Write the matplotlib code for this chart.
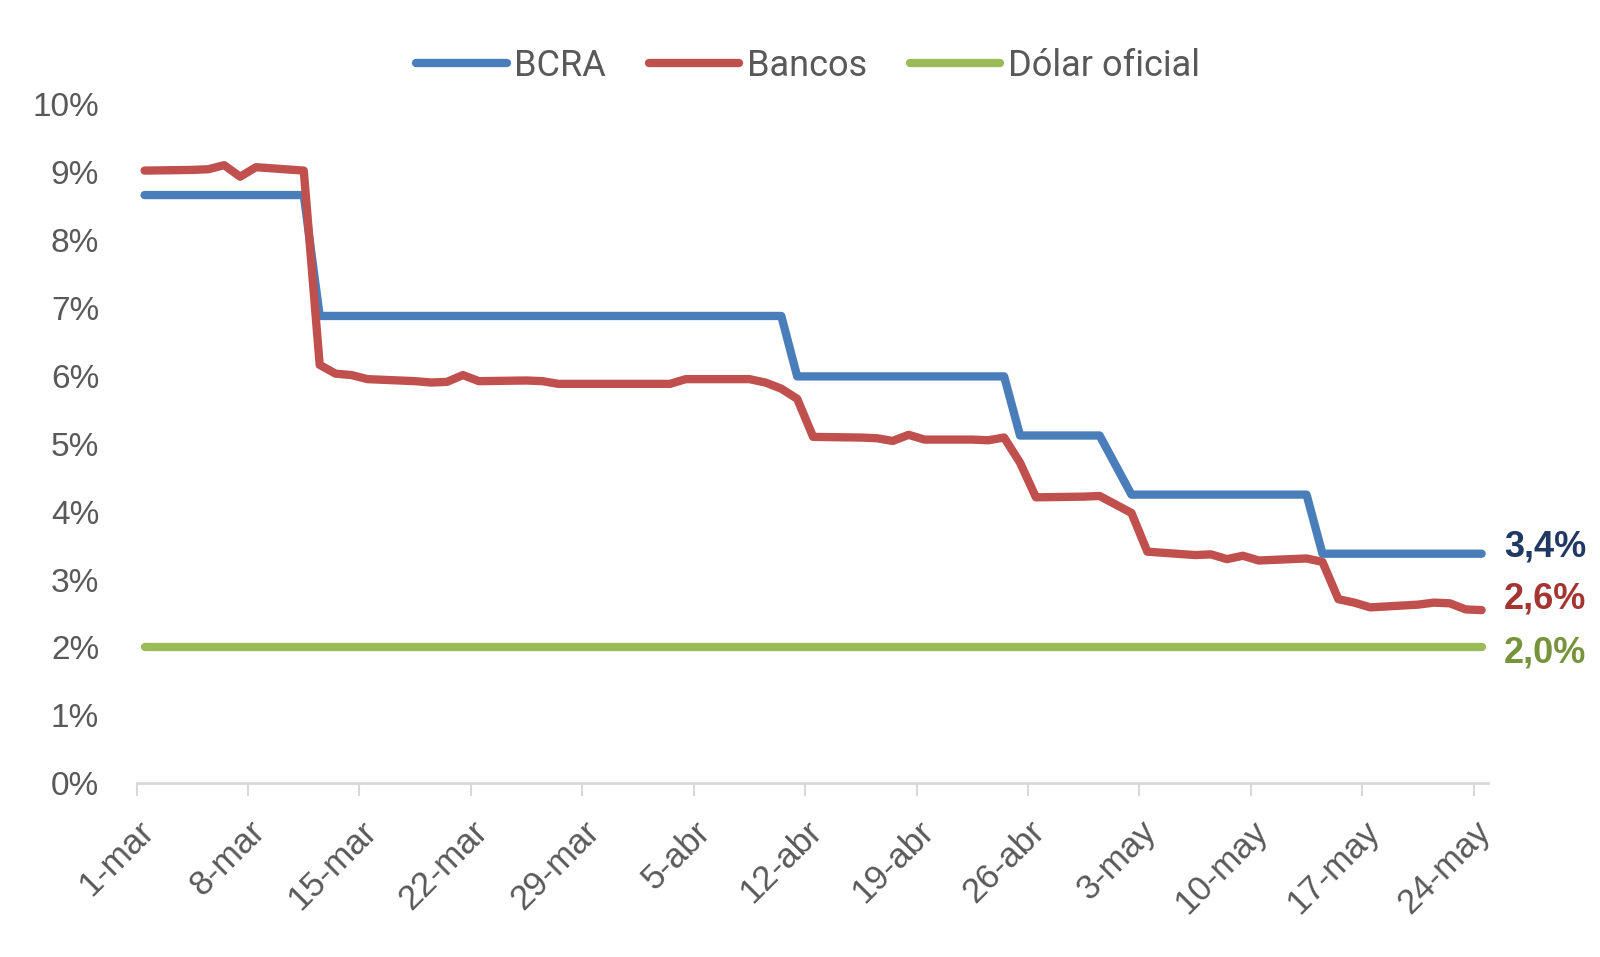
import matplotlib
matplotlib.use("Agg")
import matplotlib.pyplot as plt
import matplotlib.dates as mdates
from matplotlib.transforms import ScaledTranslation
import pandas as pd
import numpy as np

# ---------------- data ----------------
dates = ["2024-03-01", "2024-03-04", "2024-03-05", "2024-03-06", "2024-03-07", "2024-03-08",
         "2024-03-11", "2024-03-12", "2024-03-13", "2024-03-14", "2024-03-15", "2024-03-18",
         "2024-03-19", "2024-03-20", "2024-03-21", "2024-03-22", "2024-03-25", "2024-03-26",
         "2024-03-27", "2024-04-03", "2024-04-04", "2024-04-05", "2024-04-08", "2024-04-09",
         "2024-04-10", "2024-04-11", "2024-04-12", "2024-04-15", "2024-04-16", "2024-04-17",
         "2024-04-18", "2024-04-19", "2024-04-22", "2024-04-23", "2024-04-24", "2024-04-25",
         "2024-04-26", "2024-04-29", "2024-04-30", "2024-05-02", "2024-05-03", "2024-05-06",
         "2024-05-07", "2024-05-08", "2024-05-09", "2024-05-10", "2024-05-13", "2024-05-14",
         "2024-05-15", "2024-05-16", "2024-05-17", "2024-05-20", "2024-05-21", "2024-05-22",
         "2024-05-23", "2024-05-24"]

bcra = [8.66, 8.66, 8.66, 8.66, 8.66, 8.66, 8.66,
        6.88, 6.88, 6.88, 6.88, 6.88, 6.88, 6.88, 6.88, 6.88, 6.88, 6.88, 6.88,
        6.88, 6.88, 6.88, 6.88, 6.88, 6.88,
        5.99, 5.99, 5.99, 5.99, 5.99, 5.99, 5.99, 5.99, 5.99, 5.99,
        5.12, 5.12, 5.12, 5.12,
        4.25, 4.25, 4.25, 4.25, 4.25, 4.25, 4.25, 4.25,
        3.38, 3.38, 3.38, 3.38, 3.38, 3.38, 3.38, 3.38, 3.38]

bancos = [9.02, 9.03, 9.04, 9.10, 8.93, 9.07, 9.02, 6.16, 6.03, 6.01, 5.95, 5.92,
          5.90, 5.91, 6.01, 5.92, 5.93, 5.92, 5.88, 5.88, 5.95, 5.95, 5.95, 5.90,
          5.81, 5.66, 5.10, 5.09, 5.08, 5.04, 5.13, 5.06, 5.06, 5.05, 5.09, 4.72,
          4.21, 4.22, 4.23, 3.98, 3.41, 3.36, 3.37, 3.30, 3.35, 3.28, 3.31, 3.26,
          2.71, 2.66, 2.59, 2.63, 2.66, 2.65, 2.56, 2.55]

dolar = [2.0, 2.0, 2.0, 2.0, 2.0, 2.0, 2.0, 2.0, 2.0, 2.0, 2.0, 2.0, 2.0, 2.0,
         2.0, 2.0, 2.0, 2.0, 2.0, 2.0, 2.0, 2.0, 2.0, 2.0, 2.0, 2.0, 2.0, 2.0,
         2.0, 2.0, 2.0, 2.0, 2.0, 2.0, 2.0, 2.0, 2.0, 2.0, 2.0, 2.0, 2.0, 2.0,
         2.0, 2.0, 2.0, 2.0, 2.0, 2.0, 2.0, 2.0, 2.0, 2.0, 2.0, 2.0, 2.0, 2.0]

series_names = ["BCRA", "Bancos", "Dólar oficial"]
end_labels = ["3,4%", "2,6%", "2,0%"]

tick_dates = ["2024-03-01", "2024-03-08", "2024-03-15", "2024-03-22", "2024-03-29",
              "2024-04-05", "2024-04-12", "2024-04-19", "2024-04-26", "2024-05-03",
              "2024-05-10", "2024-05-17", "2024-05-24"]
tick_labels = ["1-mar", "8-mar", "15-mar", "22-mar", "29-mar", "5-abr", "12-abr",
               "19-abr", "26-abr", "3-may", "10-may", "17-may", "24-may"]
y_ticks = [0, 1, 2, 3, 4, 5, 6, 7, 8, 9, 10]
y_labels = ["0%", "1%", "2%", "3%", "4%", "5%", "6%", "7%", "8%", "9%", "10%"]

# ---------------- styling ----------------
line_colors = ["#4A7EBB", "#C0504D", "#9BBB59"]
label_colors = ["#1F3864", "#A33532", "#77933C"]
label_offsets = [(16, 5), (16, 8), (16, -4)]   # points
grey = "#595959"
axis_grey = "#D9D9D9"

fig = plt.figure(figsize=(16, 9.57), dpi=100)
ax = fig.add_axes([0.0854, 0.1815, 0.8446, 0.7098])

# Excel date axis: points sit in the middle of each day
x = mdates.date2num(pd.to_datetime(dates)) + 0.5

handles = []
for vals, col, name in zip([bcra, bancos, dolar], line_colors, series_names):
    h, = ax.plot(x, vals, color=col, lw=6.0, solid_capstyle="round",
                 solid_joinstyle="round", label=name)
    handles.append(h)

for vals, txt, col, off in zip([bcra, bancos, dolar], end_labels, label_colors, label_offsets):
    ax.annotate(txt, xy=(x[-1], vals[-1]), xytext=off, textcoords="offset points",
                ha="left", va="center", fontsize=26, fontweight="bold",
                color=col, family=["Liberation Sans", "DejaVu Sans"],
                annotation_clip=False)

xt = mdates.date2num(pd.to_datetime(tick_dates))
ax.set_xlim(mdates.date2num(pd.Timestamp("2024-03-01")),
            mdates.date2num(pd.Timestamp("2024-05-25")) - 0.1)
ax.set_ylim(0, 10)
ax.set_xticks(xt)
ax.set_xticklabels(tick_labels, rotation=45, ha="right", va="center",
                   rotation_mode="anchor", fontsize=25, color=grey,
                   family=["Liberation Sans", "DejaVu Sans"])
ax.set_yticks(y_ticks)
ax.set_yticklabels(y_labels, fontsize=24, color=grey,
                   family=["Liberation Sans", "DejaVu Sans"])

for s in ["left", "top", "right"]:
    ax.spines[s].set_visible(False)
ax.spines["bottom"].set_color(axis_grey)
ax.spines["bottom"].set_linewidth(2)
ax.tick_params(axis="y", length=0, pad=27)
ax.tick_params(axis="x", length=9, width=1.5, color=axis_grey, pad=22)

offset = ScaledTranslation(12 / 100, 0, fig.dpi_scale_trans)
for lab in ax.get_xticklabels():
    lab.set_transform(lab.get_transform() + offset)

fig.legend(handles=handles, loc="center", bbox_to_anchor=(808 / 1600, 1 - 66 / 957),
           ncol=3, frameon=False, handlelength=2.5, handletextpad=0.2,
           columnspacing=1.2,
           prop={"family": ["Liberation Sans Narrow", "Roboto", "DejaVu Sans"], "size": 26},
           labelcolor=grey)

fig.savefig("out.png", dpi=100, facecolor="white")
